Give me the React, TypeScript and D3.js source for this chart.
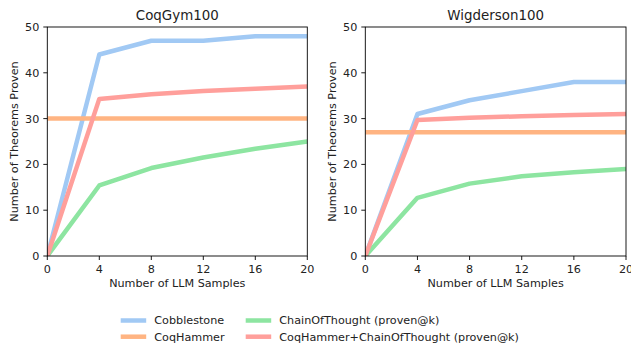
import React from "react";
import * as d3 from "d3";

const samples = [0, 4, 8, 12, 16, 20];
const xTicks = [0, 4, 8, 12, 16, 20];
const yTicks = [0, 10, 20, 30, 40, 50];

const coqGymCobblestone = [0, 44, 47, 47, 48, 48];
const coqGymHammer = [30, 30, 30, 30, 30, 30];
const coqGymCoT = [0, 15.4, 19.2, 21.5, 23.4, 25];
const coqGymHammerCoT = [0, 34.3, 35.3, 36, 36.5, 37];

const wigCobblestone = [0, 31, 34, 36, 38, 38];
const wigHammer = [27, 27, 27, 27, 27, 27];
const wigCoT = [0, 12.7, 15.8, 17.4, 18.3, 19];
const wigHammerCoT = [0, 29.7, 30.2, 30.5, 30.8, 31];

const seriesNames = ["Cobblestone", "CoqHammer", "ChainOfThought (proven@k)", "CoqHammer+ChainOfThought (proven@k)"];
const colors = ["#a1c9f4", "#ffb482", "#8de5a1", "#ff9f9b"];

const panels = [
  { title: "CoqGym100", series: [coqGymCobblestone, coqGymHammer, coqGymCoT, coqGymHammerCoT], x0: 47.3, x1: 307.3 },
  { title: "Wigderson100", series: [wigCobblestone, wigHammer, wigCoT, wigHammerCoT], x0: 365.3, x1: 626 },
];

const FONT = "DejaVu Sans, sans-serif";
const FS = 11.2;
const LW = 4.5;

function Panel({ p }: { p: typeof panels[0] }) {
  const x = d3.scaleLinear().domain([0, 20]).range([p.x0, p.x1]);
  const y = d3.scaleLinear().domain([0, 50]).range([256, 27]);
  const line = d3.line<number>().x((_, i) => x(samples[i])).y((d) => y(d));
  const cx = (p.x0 + p.x1) / 2;
  return (
    <g>
      <defs>
        <clipPath id={"clip-" + p.title}>
          <rect x={p.x0} y={27} width={p.x1 - p.x0} height={229} />
        </clipPath>
      </defs>
      <g clipPath={`url(#clip-${p.title})`}>
        {p.series.map((s, i) => (
          <path key={i} d={line(s) || ""} fill="none" stroke={colors[i]} strokeWidth={LW} strokeLinejoin="round" strokeLinecap="butt" />
        ))}
      </g>
      <rect x={p.x0} y={27} width={p.x1 - p.x0} height={229} fill="none" stroke="#000" strokeWidth={0.9} />
      {xTicks.map((t) => (
        <g key={"x" + t}>
          <line x1={x(t)} x2={x(t)} y1={256} y2={260} stroke="#000" strokeWidth={0.9} />
          <text x={x(t)} y={269.5} dy="0.35em" textAnchor="middle" fontSize={FS} fontFamily={FONT} fill="#222">{t}</text>
        </g>
      ))}
      {yTicks.map((t) => (
        <g key={"y" + t}>
          <line x1={p.x0 - 4} x2={p.x0} y1={y(t)} y2={y(t)} stroke="#000" strokeWidth={0.9} />
          <text x={p.x0 - 8} y={y(t)} dy="0.35em" textAnchor="end" fontSize={FS} fontFamily={FONT} fill="#222">{t}</text>
        </g>
      ))}
      <text x={cx} y={15} dy="0.35em" textAnchor="middle" fontSize={13.4} fontFamily={FONT} fill="#222">{p.title}</text>
      <text x={cx} y={283.5} dy="0.35em" textAnchor="middle" fontSize={FS} fontFamily={FONT} fill="#222">Number of LLM Samples</text>
      <text transform={`translate(${p.x0 - 33},${(27 + 256) / 2}) rotate(-90)`} dy="0.35em" textAnchor="middle" fontSize={FS} fontFamily={FONT} fill="#222">Number of Theorems Proven</text>
    </g>
  );
}

export default function App() {
  const legendPos = [
    { x: 120.7, y: 320.5 },
    { x: 120.7, y: 336.7 },
    { x: 245.7, y: 320.5 },
    { x: 245.7, y: 336.7 },
  ];
  return (
    <svg width={631} height={347} style={{ position: "absolute", left: 0, top: 0, background: "#fff" }}>
      <rect width={631} height={347} fill="#fff" />
      {panels.map((p) => <Panel key={p.title} p={p} />)}
      {seriesNames.map((n, i) => (
        <g key={n}>
          <line x1={legendPos[i].x} x2={legendPos[i].x + 25.5} y1={legendPos[i].y} y2={legendPos[i].y} stroke={colors[i]} strokeWidth={LW} />
          <text x={legendPos[i].x + 33.6} y={legendPos[i].y} dy="0.35em" fontSize={FS} fontFamily={FONT} fill="#222">{n}</text>
        </g>
      ))}
    </svg>
  );
}
